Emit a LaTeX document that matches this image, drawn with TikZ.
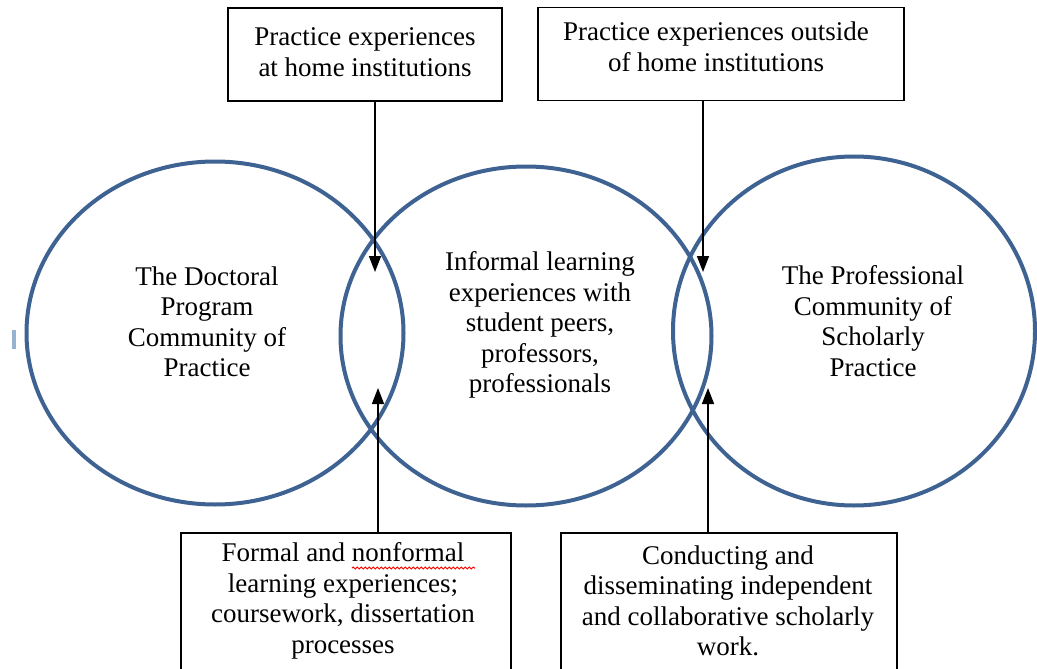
\documentclass[tikz,border=0pt]{standalone}
\usepackage{fontspec}
\setmainfont{Liberation Serif}
\usetikzlibrary{arrows.meta, positioning, shapes.geometric, decorations.pathmorphing}

\definecolor{ringblue}{RGB}{62,98,145}
\definecolor{markblue}{RGB}{150,180,210}

\begin{document}
\begin{tikzpicture}[
    x=1pt, y=-1pt,
    ring/.style={draw=ringblue, line width=4pt, ellipse, inner sep=0pt},
    box/.style={draw, line width=1.8pt, inner sep=0pt},
    txt/.style={align=center, inner sep=0pt, font=\fontsize{27}{30.5}\selectfont},
    arrowstyle/.style={-{Triangle[length=16pt, width=12pt]}, line width=1.6pt},
    spell/.style={draw=red, line width=1pt, decorate, decoration={snake, amplitude=1pt, segment length=4pt}},
]
    \useasboundingbox (0,0) rectangle (1037,669);

    % Three overlapping communities
    \node[ring, minimum width=377pt, minimum height=343pt] (doctoral) at (215,333) {};
    \node[ring, minimum width=371pt, minimum height=339pt] (informal) at (526,336) {};
    \node[ring, minimum width=362pt, minimum height=349pt] (professional) at (854,331) {};

    \node[txt] (doctoralText) at (207,322) {The Doctoral\\Program\\Community of\\Practice};
    \node[txt] (informalText) at (540,325) {Informal learning\\experiences with\\student peers,\\professors,\\professionals};
    \node[txt] (professionalText) at (873,321) {The Professional\\Community of\\Scholarly\\Practice};

    % small leftover mark on the far left
    \fill[markblue] (12,330) rectangle (16,349);

    % Boxes above
    \node[box, minimum width=274pt, minimum height=93pt] (homeBox) at (365,54.5) {};
    \node[txt] (homeText) at (365,52) {Practice experiences\\at home institutions};
    \node[box, minimum width=366pt, minimum height=93pt] (outsideBox) at (721,54) {};
    \node[txt] (outsideText) at (716,47) {Practice experiences outside\\of home institutions};

    % Boxes below (run off the bottom edge)
    \node[box, minimum width=330pt, minimum height=150pt] (formalBox) at (346,608) {};
    \node[txt] (formalText) at (343,601) {Formal and nonformal\\learning experiences;\\coursework, dissertation\\processes};
    \node[box, minimum width=336pt, minimum height=150pt] (scholarBox) at (729,608) {};
    \node[txt] (scholarText) at (728,601) {Conducting and\\disseminating independent\\and collaborative scholarly\\work.};

    % spell-check squiggle under "nonformal"
    \draw[spell] (352,568) -- (475,568);

    % Arrows into the overlaps
    \coordinate (homeTip) at (375,272);
    \coordinate (outsideTip) at (703,272);
    \coordinate (formalTip) at (378,388);
    \coordinate (scholarTip) at (708,388);

    \draw[arrowstyle] (homeBox.south -| homeTip) -- (homeTip);
    \draw[arrowstyle] (outsideBox.south -| outsideTip) -- (outsideTip);
    \draw[arrowstyle] (formalBox.north -| formalTip) -- (formalTip);
    \draw[arrowstyle] (scholarBox.north -| scholarTip) -- (scholarTip);
\end{tikzpicture}
\end{document}
